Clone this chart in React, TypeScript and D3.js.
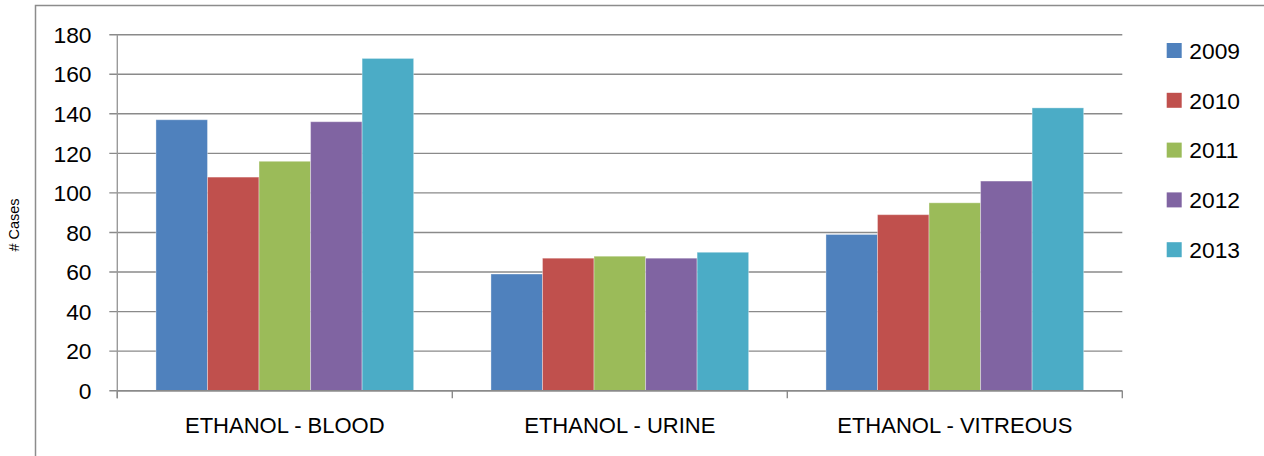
import React from "react";
import * as d3 from "d3";

const categories = ["ETHANOL - BLOOD", "ETHANOL - URINE", "ETHANOL - VITREOUS"];
const seriesNames = ["2009", "2010", "2011", "2012", "2013"];
const values2009 = [137, 59, 79];
const values2010 = [108, 67, 89];
const values2011 = [116, 68, 95];
const values2012 = [136, 67, 106];
const values2013 = [168, 70, 143];
const seriesValues = [values2009, values2010, values2011, values2012, values2013];
const colors = ["#4F81BD", "#C0504D", "#9BBB59", "#8064A2", "#4BACC6"];
const yTicks = [0, 20, 40, 60, 80, 100, 120, 140, 160, 180];
const yLabel = "# Cases";

const W = 1264;
const H = 456;
const left = 117.3;
const right = 1122.3;
const top = 34.7;
const bottom = 390.7;
const FONT = "'Liberation Sans', Arial, sans-serif";
const gridColor = "#8a8a8a";

export default function App() {
  const x0 = d3.scaleBand<string>().domain(categories).range([left, right]).padding(0);
  const x1 = d3
    .scaleBand<string>()
    .domain(seriesNames)
    .range([0, x0.bandwidth()])
    .paddingInner(0)
    .paddingOuter(0.75);
  const y = d3.scaleLinear().domain([0, 180]).range([bottom, top]);

  const boundaries = [...categories.map((c) => x0(c) as number), right];

  return (
    <svg
      width={W}
      height={H}
      style={{ position: "absolute", left: 0, top: 0, background: "#fff" }}
      fontFamily={FONT}
    >
      <path d={`M35.5,${H} V5.5 H${W}`} fill="none" stroke="#8c8c8c" strokeWidth={1.5} />

      {yTicks.map((t) => (
        <g key={t}>
          <line x1={left - 8} x2={right} y1={y(t)} y2={y(t)} stroke={gridColor} strokeWidth={1.4} />
          <text x={91.5} y={y(t)} dy="0.36em" textAnchor="end" fontSize={22.8} fill="#000">
            {t}
          </text>
        </g>
      ))}

      {seriesNames.map((s, si) =>
        categories.map((c, ci) => {
          const v = seriesValues[si][ci];
          return (
            <rect
              key={s + c}
              x={(x0(c) as number) + (x1(s) as number)}
              y={y(v)}
              width={x1.bandwidth()}
              height={y(0) - y(v)}
              fill={colors[si]}
              stroke="rgba(255,255,255,0.35)"
              strokeWidth={1}
            />
          );
        })
      )}

      <line x1={left} x2={left} y1={top} y2={bottom + 7.5} stroke="#9a9a9a" strokeWidth={1.4} />
      <line x1={left} x2={right} y1={bottom} y2={bottom} stroke={gridColor} strokeWidth={1.4} />
      {boundaries.map((b, i) => (
        <line key={i} x1={b} x2={b} y1={bottom} y2={bottom + 7.5} stroke={gridColor} strokeWidth={1.4} />
      ))}

      {categories.map((c) => (
        <text
          key={c}
          x={(x0(c) as number) + x0.bandwidth() / 2}
          y={433}
          textAnchor="middle"
          fontSize={22}
          fill="#000"
        >
          {c}
        </text>
      ))}

      <text
        transform={`translate(19,225) rotate(-90)`}
        textAnchor="middle"
        fontSize={14.5}
        fill="#000"
      >
        {yLabel}
      </text>

      {seriesNames.map((s, i) => {
        const cy = 50.5 + i * 49.8;
        return (
          <g key={s}>
            <rect x={1166.7} y={cy - 7.5} width={15} height={15} fill={colors[i]} />
            <text x={1189.3} y={cy} dy="0.36em" fontSize={22.8} fill="#000">
              {s}
            </text>
          </g>
        );
      })}
    </svg>
  );
}
